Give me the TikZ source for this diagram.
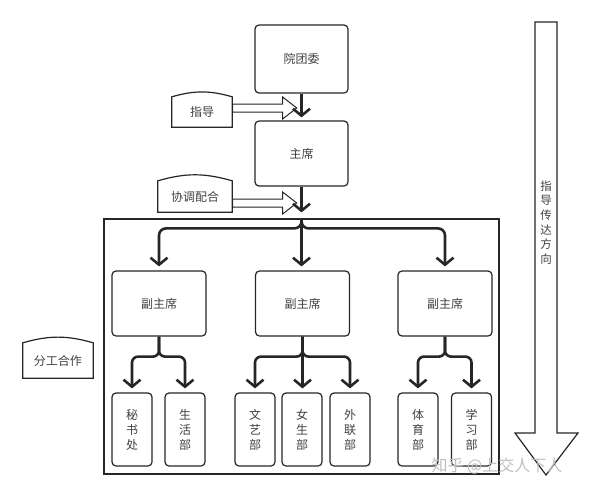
\documentclass[tikz,border=0pt]{standalone}
\usepackage{fontspec}
\setmainfont{Noto Sans CJK SC}
\usetikzlibrary{arrows.meta,shapes.arrows}
\tikzset{
	box/.style={draw=black!85,line width=1.2pt,rounded corners=4pt,text=black!75,font=\fontsize{12}{15}\selectfont,align=center},
	leaf/.style={box,minimum width=40pt,minimum height=73pt},
	tag/.style={minimum width=60pt,minimum height=30pt,text=black!75,font=\fontsize{12}{15}\selectfont},
	link/.style={draw=black!85,line width=2.6pt,-{Straight Barb[length=7pt,width=17pt]},shorten >=4pt},
	hollow/.style={single arrow,draw=black!85,line width=1pt,inner sep=0pt,minimum width=0pt,single arrow head extend=7pt,single arrow tip angle=76,text width=0pt,text height=7pt,text depth=0pt,minimum height=64pt}
}
\begin{document}
\begin{tikzpicture}[x=1pt,y=-1pt]
	\useasboundingbox (0,0) rectangle (600,498);
	\node[box,minimum width=93pt,minimum height=68pt] (league) at (301.5,59) {院团委};
	\node[box,minimum width=93pt,minimum height=65pt] (chair) at (301.5,153.5) {主席};
	\node[draw=black!85,line width=1.2pt,minimum width=395pt,minimum height=255pt] (group) at (301.5,346.5) {};
	\foreach \n/\x in {v1/159,v2/302.5,v3/445}
		\node[box,minimum width=94pt,minimum height=65pt] (\n) at (\x,303.5) {副主席};
	\foreach \n/\x/\t in {d1/132/秘\\书\\处,d2/185/生\\活\\部,d3/255/文\\艺\\部,d4/302/女\\生\\部,d5/350/外\\联\\部,d6/418/体\\育\\部,d7/471.5/学\\习\\部}
		\node[leaf] (\n) at (\x,429.5) {\t};
	\node[tag] (guide) at (202,112) {指导};
	\node[tag,minimum width=74pt,minimum height=31pt] (coop) at (195,196.5) {协调配合};
	\node[tag,minimum width=70pt,minimum height=35pt] (split) at (58,360.5) {分工合作};
	\foreach \n in {guide,coop,split}
		\draw[black!85,line width=1.2pt] (\n.south west) -- (\n.north west) to[out=16,in=164] (\n.north east) -- (\n.south east) -- cycle;
	\draw[link,shorten >=3pt] (league) -- (chair);
	\draw[link,shorten >=6pt] (chair) -- (group.north -| chair.south);
	\draw[link,rounded corners=7pt] (group.north -| chair.south) -- ++(0,10) -| (v1.north);
	\draw[link,rounded corners=7pt] (group.north -| chair.south) -- ++(0,10) -| (v3.north);
	\draw[link] (group.north -| chair.south) -- (v2.north -| chair.south);
	\foreach \p/\c in {v1/d1,v1/d2,v2/d3,v2/d5,v3/d6,v3/d7}
		\draw[link,rounded corners=6pt] (\p.south) -- ++(0,20) -| (\c.north);
	\draw[link] (v2.south) -- (d4.north -| v2.south);
	\node[hollow,anchor=tail] (a1) at ([yshift=4pt]guide.east) {};
	\node[hollow,anchor=tail] (a2) at ([yshift=-6.5pt]coop.east) {};
	\draw[black!85,line width=1.2pt] (535,22) -- (557,22) -- (557,433) -- (578,433) -- (546,475) -- (515,433) -- (535,433) -- cycle;
	\node[text=black!75,font=\fontsize{11.5}{14.6}\selectfont,align=center] (flow) at (546,222.5) {指\\导\\传\\达\\方\\向};
	\node[text=black!25,font=\fontsize{16}{18}\selectfont] (mark) at (497,466) {知乎 @上交人下人};
\end{tikzpicture}
\end{document}
